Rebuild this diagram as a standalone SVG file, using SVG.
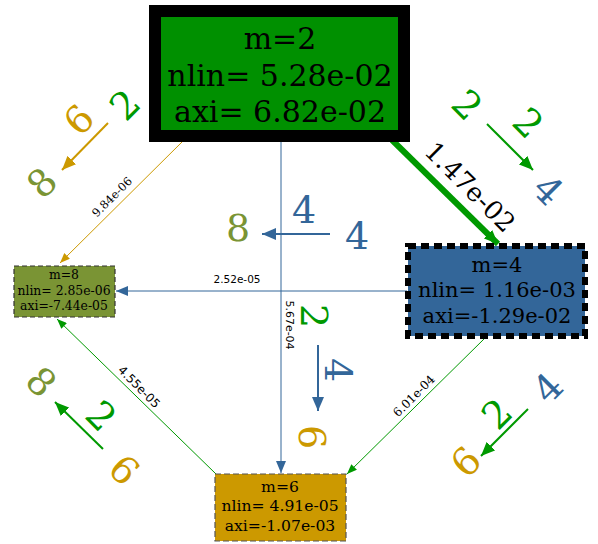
<svg xmlns="http://www.w3.org/2000/svg" width="598" height="544" viewBox="0 0 598 544">
<style>
.nt{font-family:"DejaVu Serif",serif;text-anchor:middle;fill:#000}
.el{font-family:"DejaVu Sans",sans-serif;text-anchor:middle;fill:#000}
.es{font-family:"DejaVu Serif",serif;text-anchor:middle;fill:#000}
.big{font-family:"DejaVu Serif",serif;font-size:38px;text-anchor:middle;dominant-baseline:central}
.g{fill:#009900}.b{fill:#336699}.y{fill:#cc9900}.o{fill:#7a9434}
</style>
<defs>
<marker id="aG" markerUnits="userSpaceOnUse" markerWidth="14" markerHeight="12" refX="14" refY="6" orient="auto"><path d="M0,0L14,6L0,12z" fill="#009900"/></marker>
<marker id="aB" markerUnits="userSpaceOnUse" markerWidth="14" markerHeight="12" refX="14" refY="6" orient="auto"><path d="M0,0L14,6L0,12z" fill="#336699"/></marker>
<marker id="aY" markerUnits="userSpaceOnUse" markerWidth="14" markerHeight="12" refX="14" refY="6" orient="auto"><path d="M0,0L14,6L0,12z" fill="#cc9900"/></marker>
<marker id="sG" markerUnits="userSpaceOnUse" markerWidth="10" markerHeight="8" refX="10" refY="4" orient="auto"><path d="M0,0L10,4L0,8z" fill="#009900"/></marker>
<marker id="sB" markerUnits="userSpaceOnUse" markerWidth="12" markerHeight="10" refX="12" refY="5" orient="auto"><path d="M0,0L12,5L0,10z" fill="#336699"/></marker>
<marker id="sY" markerUnits="userSpaceOnUse" markerWidth="10" markerHeight="8" refX="10" refY="4" orient="auto"><path d="M0,0L10,4L0,8z" fill="#cc9900"/></marker>
</defs>
<g id="connectors">
<line x1="185" y1="139" x2="60" y2="263" stroke="#cc9900" stroke-width="1" marker-end="url(#sY)"/>
<line x1="392" y1="140" x2="498" y2="244" stroke="#009900" stroke-width="6" marker-end="url(#aG)"/>
<line x1="281" y1="140" x2="281" y2="473" stroke="#336699" stroke-width="1" marker-end="url(#sB)"/>
<line x1="407" y1="291" x2="116" y2="291" stroke="#336699" stroke-width="1" marker-end="url(#sB)"/>
<line x1="485" y1="338" x2="347" y2="474" stroke="#009900" stroke-width="1" marker-end="url(#sG)"/>
<line x1="216" y1="474" x2="57" y2="319" stroke="#009900" stroke-width="1" marker-end="url(#sG)"/>
<text class="es" font-size="11.5" transform="translate(112,197) rotate(-45)" dominant-baseline="central">9.84e-06</text>
<text class="es" font-size="26" transform="translate(470,187) rotate(45)" dominant-baseline="central">1.47e-02</text>
<text class="el" font-size="10.5" x="237" y="279" dominant-baseline="central">2.52e-05</text>
<text class="el" font-size="11" transform="translate(289,325) rotate(90)" dominant-baseline="central">5.67e-04</text>
<text class="es" font-size="12" transform="translate(414,396) rotate(-45)" dominant-baseline="central">6.01e-04</text>
<text class="el" font-size="12" transform="translate(139,387) rotate(45)" dominant-baseline="central">4.55e-05</text>
</g>
<g id="legend-2-8">
<line x1="108" y1="123" x2="62" y2="170" stroke="#cc9900" stroke-width="2" marker-end="url(#aY)"/>
<text class="big g" transform="translate(125,105) rotate(-45)">2</text>
<text class="big y" transform="translate(79,120) rotate(-45)">6</text>
<text class="big o" transform="translate(42,183) rotate(-45)">8</text>
</g>
<g id="legend-2-4">
<line x1="487" y1="124" x2="533" y2="170" stroke="#009900" stroke-width="2" marker-end="url(#aG)"/>
<text class="big g" transform="translate(467,105) rotate(45)">2</text>
<text class="big g" transform="translate(528,123) rotate(45)">2</text>
<text class="big b" transform="translate(548,190) rotate(45)">4</text>
</g>
<g id="legend-4-8">
<line x1="330" y1="234" x2="262" y2="234" stroke="#336699" stroke-width="2" marker-end="url(#aB)"/>
<text class="big b" x="304" y="210">4</text>
<text class="big b" x="357" y="236">4</text>
<text class="big o" x="238" y="228">8</text>
</g>
<g id="legend-2-6">
<line x1="318" y1="345" x2="318" y2="411" stroke="#336699" stroke-width="2" marker-end="url(#aB)"/>
<text class="big g" transform="translate(314,316) rotate(90)">2</text>
<text class="big b" transform="translate(338,370) rotate(90)">4</text>
<text class="big y" transform="translate(312,437) rotate(90)">6</text>
</g>
<g id="legend-6-8">
<line x1="103" y1="449" x2="55" y2="402" stroke="#009900" stroke-width="2" marker-end="url(#aG)"/>
<text class="big o" transform="translate(41,382) rotate(45)">8</text>
<text class="big g" transform="translate(101,416) rotate(45)">2</text>
<text class="big y" transform="translate(124,470) rotate(45)">6</text>
</g>
<g id="legend-4-6">
<line x1="528" y1="409" x2="481" y2="456" stroke="#009900" stroke-width="2" marker-end="url(#aG)"/>
<text class="big b" transform="translate(548,388) rotate(-45)">4</text>
<text class="big g" transform="translate(497,414) rotate(-45)">2</text>
<text class="big y" transform="translate(466,462) rotate(-45)">6</text>
</g>
<g id="node-m2">
<rect x="155" y="11" width="249" height="125" fill="#009000" stroke="#000" stroke-width="12"/>
<text class="nt" font-size="30" x="280" y="49">m=2</text>
<text class="nt" font-size="30" x="280" y="86">nlin= 5.28e-02</text>
<text class="nt" font-size="30" x="280" y="122">axi= 6.82e-02</text>
</g>
<g id="node-m4">
<rect x="408" y="246" width="177" height="90" fill="#336699" stroke="#000" stroke-width="6" stroke-dasharray="8,5"/>
<text class="nt" font-size="21" x="497" y="272">m=4</text>
<text class="nt" font-size="21" x="497" y="297">nlin= 1.16e-03</text>
<text class="nt" font-size="21" x="497" y="323">axi=-1.29e-02</text>
</g>
<g id="node-m8">
<rect x="14" y="266" width="101" height="51" fill="#7a9434" stroke="#333" stroke-width="1.2" stroke-dasharray="5,3"/>
<text class="nt" font-size="12.4" x="64" y="279">m=8</text>
<text class="nt" font-size="12.4" x="64" y="295">nlin= 2.85e-06</text>
<text class="nt" font-size="12.4" x="64" y="310">axi=-7.44e-05</text>
</g>
<g id="node-m6">
<rect x="215" y="474" width="131" height="67" fill="#cc9900" stroke="#555" stroke-width="1.2" stroke-dasharray="6,3"/>
<text class="nt" font-size="15.6" x="280" y="492">m=6</text>
<text class="nt" font-size="15.6" x="280" y="511">nlin= 4.91e-05</text>
<text class="nt" font-size="15.6" x="280" y="531">axi=-1.07e-03</text>
</g>
</svg>
